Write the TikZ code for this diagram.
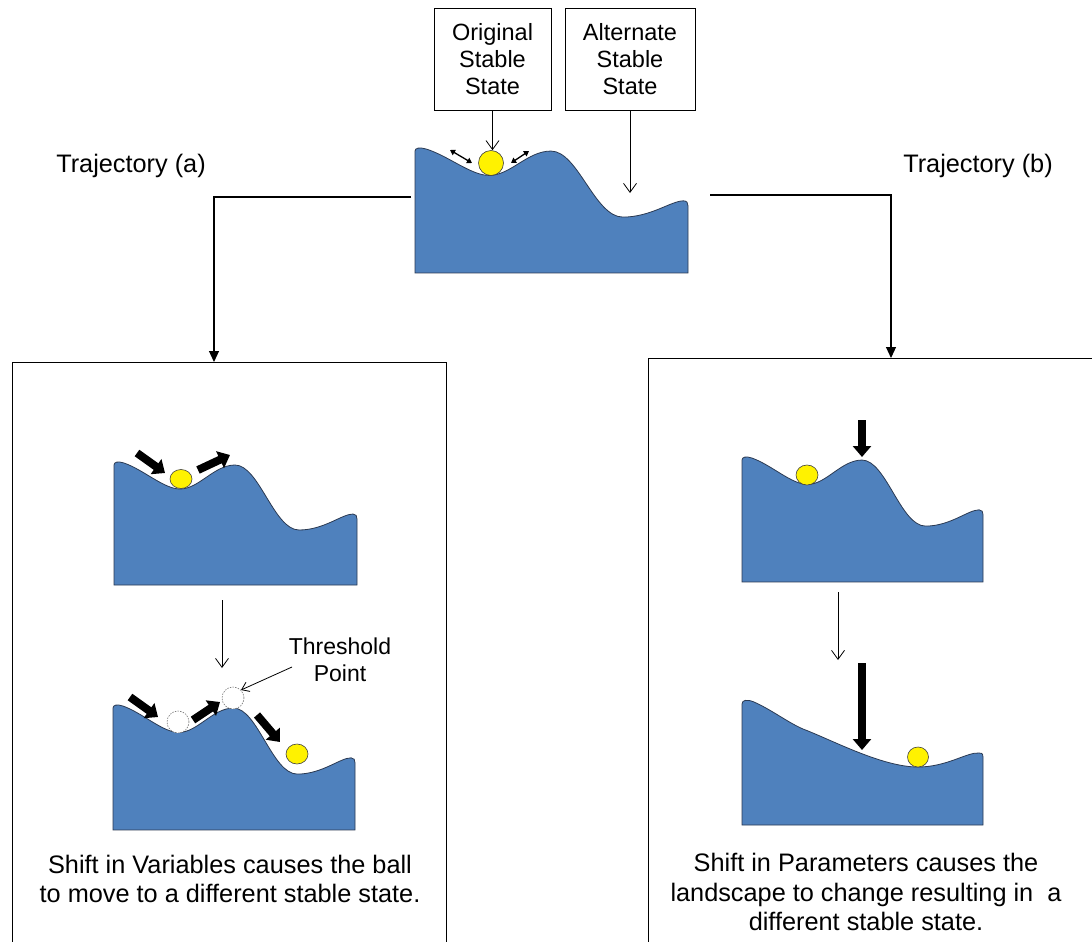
\documentclass[tikz,border=0pt]{standalone}
\usepackage{fontspec}
\setmainfont{Liberation Sans}
\usetikzlibrary{arrows.meta,shapes.geometric}
\definecolor{land}{HTML}{4F81BD}
\definecolor{landline}{HTML}{2B3A52}

% outline of the two-valley landscape in a 243 x 123 box (y grows downwards)
\newcommand\twovalleypath{(0,123) -- (0,3) .. controls (0,0) and (4,-1) .. (10,1)
  .. controls (30,8) and (50,27) .. (66,27)
  .. controls (85,27) and (100,3) .. (121,3)
  .. controls (145,3) and (160,68) .. (185,68)
  .. controls (210,68) and (228,52) .. (239,52)
  .. controls (242,52) and (243,54) .. (243,57) -- (243,123) -- cycle}

% the tilted landscape after the parameter shift, in a 241 x 125 box
\newcommand\tiltedpath{(0,125) -- (0,4) .. controls (0,0) and (5,-1) .. (12,2)
  .. controls (30,10) and (45,22) .. (61,29)
  .. controls (90,40) and (140,67) .. (176,67)
  .. controls (205,67) and (225,52) .. (237,53)
  .. controls (241,53) and (241,55) .. (241,57) -- (241,125) -- cycle}

\tikzset{
  landscape/.style={fill=land, draw=landline, line width=0.8pt},
  ball/.style={fill=yellow, draw=black!75, line width=0.6pt, inner sep=0pt},
  ghost/.style={fill=white, draw=black!55, dash pattern=on 1.5pt off 1.2pt, line width=0.6pt, inner sep=0pt},
  push/.style={line width=8pt, -{Triangle[length=11pt,width=18pt]}},
  thinarrow/.style={line width=0.8pt, -{Straight Barb[length=9pt,width=13pt]}},
  smallarrow/.style={line width=0.8pt, -{Straight Barb[length=7pt,width=10pt]}},
  wiggle/.style={line width=1.3pt, {Triangle[length=5pt,width=6pt]}-{Triangle[length=5pt,width=6pt]}},
  flow/.style={line width=1.1pt, -{Triangle[length=11pt,width=10pt]}},
  labelbox/.style={draw, line width=0.8pt, minimum height=102pt, align=center, inner sep=0pt,
    font=\fontsize{23.5}{27}\selectfont},
  panel/.style={draw, line width=1.4pt, inner sep=0pt},
  caption/.style={align=center, inner sep=0pt, font=\fontsize{25.3}{29.5}\selectfont},
  smallcaption/.style={align=center, inner sep=0pt, font=\fontsize{23}{27}\selectfont},
}

\begin{document}
\begin{tikzpicture}[x=1pt, y=-1pt]
\useasboundingbox (0,0) rectangle (1092,942);
\clip (0,0) rectangle (1092,942);

% ---------- top: the original landscape ----------
\node[labelbox, minimum width=117pt] (orig) at (492.5,59) {Original\\Stable\\State};
\node[labelbox, minimum width=130pt] (alt) at (630,59) {Alternate\\Stable\\State};

\begin{scope}[shift={(415,148)}, xscale=1.1235, yscale=1.016]
  \draw[landscape] \twovalleypath;
\end{scope}
\node[circle, ball, minimum size=25pt] (b0) at (491,163) {};
\coordinate (altstate) at (630,193);
\draw[thinarrow] (orig.south) -- (orig.south |- b0.north);
\draw[thinarrow] (alt.south) -- (altstate);
\draw[wiggle] (450,150) -- (472,163);
\draw[wiggle] (511,163) -- (529,151);

\node[caption] (ta) at (131,166) {Trajectory (a)};
\node[caption] (tb) at (978,166) {Trajectory (b)};

% ---------- the two panels ----------
\node[panel, anchor=north west, minimum width=434pt, minimum height=620pt] (lpanel) at (12,362) {};
\node[panel, anchor=north west, minimum width=480pt, minimum height=620pt] (rpanel) at (648,358) {};

\coordinate (tl) at (411,197);
\coordinate (ldrop) at (214,0);
\coordinate (tr) at (710,195);
\coordinate (rdrop) at (891,0);
\draw[flow] (tl) -| (ldrop |- lpanel.north);
\draw[flow] (tr) -| (rdrop |- rpanel.north);

% ---------- trajectory (a): shift in variables ----------
\begin{scope}[shift={(114,462)}]
  \draw[landscape] \twovalleypath;
\end{scope}
\node[ellipse, ball, minimum width=22pt, minimum height=19pt] (b1) at (181,479) {};
\draw[push] (137,453) -- (165,473);
\draw[push] (198,470) -- (230,455);

\coordinate (la1) at (222,600);
\coordinate (la2) at (222,668);
\draw[thinarrow] (la1) -- (la2);

\begin{scope}[shift={(113,705)}, xscale=0.996, yscale=1.016]
  \draw[landscape] \twovalleypath;
\end{scope}
\node[circle, ghost, minimum size=22pt] (g1) at (178,722) {};
\node[circle, ghost, minimum size=22pt] (g2) at (233,698) {};
\node[ellipse, ball, minimum width=22pt, minimum height=20pt] (b2) at (297,754) {};
\draw[push] (130,697) -- (158,717);
\draw[push] (193,720) -- (220,702);
\draw[push] (257,715) -- (280,742);

\node[smallcaption] (th) at (340,660) {Threshold\\Point};
\coordinate (thfrom) at (292,667);
\draw[smallarrow] (thfrom) -- (g2.north east);

\node[caption] (capa) at (230,879) {Shift in Variables causes the ball\\to move to a different stable state.};

% ---------- trajectory (b): shift in parameters ----------
\begin{scope}[shift={(742,457)}, xscale=0.992, yscale=1.016]
  \draw[landscape] \twovalleypath;
\end{scope}
\node[ellipse, ball, minimum width=22pt, minimum height=20pt] (b3) at (807,475) {};
\draw[push] (862,420) -- (862,457);

\coordinate (rb1) at (838,592);
\coordinate (rb2) at (838,660);
\draw[thinarrow] (rb1) -- (rb2);

\begin{scope}[shift={(742,700)}]
  \draw[landscape] \tiltedpath;
\end{scope}
\node[ellipse, ball, minimum width=21pt, minimum height=20pt] (b4) at (918,757) {};
\draw[push] (862,663) -- (862,750);

\node[caption] (capb) at (866,892) {Shift in Parameters causes the\\landscape to change resulting in\ \ a\\different stable state.};
\end{tikzpicture}
\end{document}
